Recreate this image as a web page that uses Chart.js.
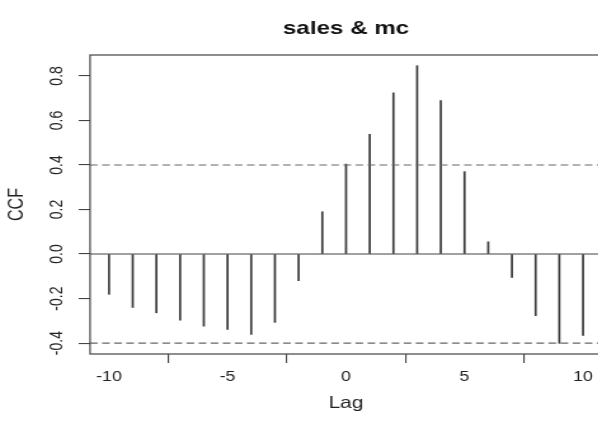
<!DOCTYPE html>
<html>
<head>
<meta charset="utf-8">
<script src="https://cdn.jsdelivr.net/npm/chart.js@4/dist/chart.umd.min.js"></script>
<style>
  html, body { margin: 0; padding: 0; background: #fff; overflow: hidden; }
  /* the source image is stretched sideways, so stretch the canvas the same way */
  #wrap { width: 480px; height: 425px; transform: scaleX(1.27); transform-origin: 0 0; }
</style>
</head>
<body>
<div id="wrap"><canvas id="ccf" width="480" height="425"></canvas></div>
<script>
/* data */
const lags = [-10, -9, -8, -7, -6, -5, -4, -3, -2, -1, 0, 1, 2, 3, 4, 5, 6, 7, 8, 9, 10];
const ccfValues = [-0.181, -0.240, -0.264, -0.297, -0.324, -0.339, -0.361, -0.307, -0.120,
                   0.190, 0.404, 0.538, 0.724, 0.846, 0.689, 0.370, 0.055,
                   -0.105, -0.277, -0.401, -0.365];
const ciBound = 0.4;
const xTicks = [-10, -5, 0, 5, 10];
const yTicks = [-0.4, -0.2, 0.0, 0.2, 0.4, 0.6, 0.8];
const yTickLabels = ['-0.4', '-0.2', '0.0', '0.2', '0.4', '0.6', '0.8'];

const X_MIN = -10.8, X_MAX = 10.8;
const INK = '#444';

Chart.defaults.font.family = '"Liberation Sans", Arial, sans-serif';
Chart.defaults.color = '#222';

/* R style box round the plot region */
const boxPlugin = {
  id: 'box',
  afterDraw(chart) {
    const { ctx, chartArea: a } = chart;
    ctx.save();
    ctx.strokeStyle = INK;
    ctx.lineWidth = 1.2;
    ctx.strokeRect(a.left, a.top, a.right - a.left, a.bottom - a.top);
    ctx.restore();
  }
};

const hline = (y, dash) => ({
  type: 'line',
  data: [{ x: X_MIN, y }, { x: X_MAX, y }],
  borderColor: dash ? '#666' : INK,
  borderWidth: 1.1,
  borderDash: dash ? [6, 3.5] : [],
  pointRadius: 0,
  order: 0
});

new Chart(document.getElementById('ccf'), {
  type: 'bar',
  data: {
    datasets: [
      {
        type: 'bar',
        data: lags.map((l, i) => ({ x: l, y: ccfValues[i] })),
        backgroundColor: '#3a3a3a',
        barThickness: 1.05,
        order: 1
      },
      hline(0, false),
      hline(ciBound, true),
      hline(-ciBound, true)
    ]
  },
  options: {
    responsive: false,
    animation: false,
    layout: { padding: { left: 0, right: 6, top: 0, bottom: 0 } },
    plugins: {
      legend: { display: false },
      tooltip: { enabled: false },
      title: {
        display: true,
        text: 'sales & mc',
        fullSize: false,
        color: '#111',
        font: { size: 19, weight: 'bold' },
        padding: { top: 17, bottom: 15.2 }
      }
    },
    scales: {
      x: {
        type: 'linear',
        min: X_MIN,
        max: X_MAX,
        offset: false,
        afterBuildTicks: s => { s.ticks = xTicks.map(v => ({ value: v })); },
        afterFit: s => { s.height = 71; },
        grid: { drawOnChartArea: false, tickLength: 9, color: INK, lineWidth: 1.1 },
        border: { display: false },
        ticks: { font: { size: 14 }, padding: 6, maxRotation: 0, autoSkip: false },
        title: { display: true, text: 'Lag', font: { size: 16.5 }, padding: { top: 0, bottom: 12 } }
      },
      y: {
        min: -0.449,
        max: 0.894,
        afterBuildTicks: s => { s.ticks = yTicks.map(v => ({ value: v })); },
        afterFit: s => { s.width = 70.9; },
        grid: { drawOnChartArea: false, tickLength: 9, color: INK, lineWidth: 1.1 },
        border: { display: false },
        ticks: {
          font: { size: 14 },
          padding: 5,
          minRotation: 90,
          maxRotation: 90,
          crossAlign: 'center',
          callback: v => yTickLabels[yTicks.findIndex(t => Math.abs(t - v) < 1e-9)] ?? ''
        },
        title: { display: true, text: 'CCF', font: { size: 16 }, padding: { top: 4, bottom: 0 } }
      }
    }
  },
  plugins: [boxPlugin]
});
</script>
</body>
</html>
